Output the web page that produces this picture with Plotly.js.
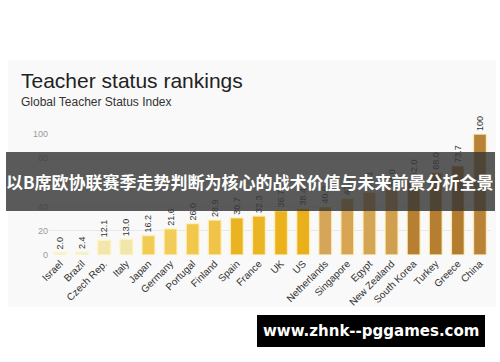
<!DOCTYPE html>
<html>
<head>
<meta charset="utf-8">
<script src="https://cdn.plot.ly/plotly-3.0.1.min.js"></script>
<style>
html,body{margin:0;padding:0;background:#fff;}
#chart{width:500px;height:362px;}
</style>
</head>
<body>
<div id="chart"></div>
<script>
const countries = ["Israel","Brazil","Czech Rep.","Italy","Japan","Germany","Portugal","Finland","Spain","France","UK","US","Netherlands","Singapore","Egypt","New Zealand","South Korea","Turkey","Greece","China"];
const statusIndex = [2.0,2.4,12.1,13.0,16.2,21.6,26.0,28.9,30.7,32.3,36.7,38.4,40.0,47.0,52.1,54.0,62.0,68.0,73.7,100];
const barColors = ["#eef0d6","#eef0d6","#f3e6ad","#f3e6ad","#f2cb55","#f2cc58","#f1c84c","#efc448","#e9b322","#eab422","#ebb21e","#e9b01c","#d5a65a","#d7a554","#d5a556","#d0a050","#b67f32","#b57e31","#b37c2f","#b98337"];
const yTicks = [0,20,40,60,80,100];
const titleText = "Teacher status rankings";
const subtitleText = "Global Teacher Status Index";
const bannerText = "以B席欧协联赛季走势判断为核心的战术价值与未来前景分析全景";
const urlText = "www.zhnk--pggames.com";

const valueLabels = statusIndex.map(v => v === 100 ? "100" : v.toFixed(1));

// pixel -> paper helpers (plot area: x 49..491, y 134..255)
const L = 49, R = 9, T = 134, B = 107, W = 500, H = 362;
const pw = W - L - R, ph = H - T - B;
const px = x => (x - L) / pw;
const py = y => (H - B - y) / ph;

const trace = {
  type: "bar",
  x: countries,
  y: statusIndex,
  text: valueLabels,
  textposition: "outside",
  textangle: -90,
  constraintext: "none",
  cliponaxis: false,
  textfont: {family: "Liberation Sans, Arial, sans-serif", size: 9, color: "#333"},
  marker: {color: barColors, line: {color: "rgba(255,244,196,0.8)", width: 1.5}},
  hoverinfo: "none"
};

const layout = {
  width: W, height: H,
  margin: {l: L, r: R, t: T, b: B, pad: 0},
  paper_bgcolor: "#ffffff",
  plot_bgcolor: "rgba(0,0,0,0)",
  font: {family: "Liberation Sans, Arial, sans-serif", color: "#333"},
  showlegend: false,
  bargap: 0.41,
  xaxis: {
    type: "category",
    tickangle: -45,
    tickfont: {size: 10, color: "#333"},
    showgrid: false, zeroline: false, showline: false, ticks: ""
  },
  yaxis: {
    range: [0, 100],
    tickvals: yTicks,
    ticktext: yTicks.map(String),
    tickfont: {size: 9, color: "#999"},
    gridcolor: "#e8e8e8", gridwidth: 1,
    zeroline: false, showline: false, ticks: ""
  },
  shapes: [
    {type: "rect", xref: "paper", yref: "paper", layer: "below",
     x0: px(8), x1: px(496), y0: py(307), y1: py(60),
     fillcolor: "#f9f9f9", line: {width: 0}},
    {type: "rect", xref: "paper", yref: "paper", layer: "above",
     x0: px(6), x1: px(495), y0: py(211), y1: py(152),
     fillcolor: "rgba(55,55,55,0.82)", line: {width: 0}},
    {type: "rect", xref: "paper", yref: "paper", layer: "above",
     x0: px(257), x1: px(485), y0: py(347), y1: py(315),
     fillcolor: "#000000", line: {width: 0}}
  ],
  annotations: [
    {text: titleText, xref: "paper", yref: "paper", x: px(19), y: py(80),
     xanchor: "left", yanchor: "middle", showarrow: false,
     font: {family: "Liberation Sans, Arial, sans-serif", size: 21, color: "#222"}},
    {text: subtitleText, xref: "paper", yref: "paper", x: px(19), y: py(102),
     xanchor: "left", yanchor: "middle", showarrow: false,
     font: {family: "Liberation Sans, Arial, sans-serif", size: 12, color: "#333"}},
    {text: "<b>" + bannerText + "</b>", xref: "paper", yref: "paper", x: px(250), y: py(181),
     xanchor: "center", yanchor: "middle", showarrow: false,
     font: {family: "Noto Sans CJK SC, sans-serif", size: 17, color: "#ffffff"}},
    {text: "<b>" + urlText + "</b>", xref: "paper", yref: "paper", x: px(371), y: py(331),
     xanchor: "center", yanchor: "middle", showarrow: false,
     font: {family: "DejaVu Sans, sans-serif", size: 15, color: "#ffffff"}}
  ]
};

Plotly.newPlot("chart", [trace], layout, {displayModeBar: false, staticPlot: true});
</script>
</body>
</html>
